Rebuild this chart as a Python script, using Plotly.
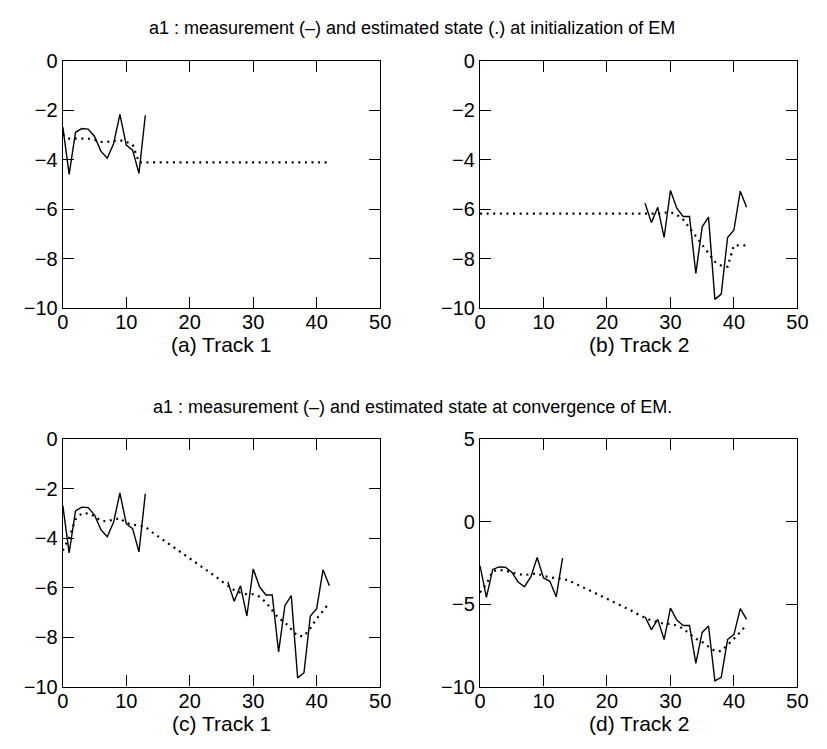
import plotly.graph_objects as go

# ---- data ----
t_track1 = list(range(0, 14))
meas_track1 = [-2.68, -4.60, -2.90, -2.75, -2.77, -3.07, -3.66, -3.95, -3.36, -2.18,
               -3.42, -3.62, -4.56, -2.21]
t_track2 = list(range(26, 43))
meas_track2 = [-5.77, -6.55, -5.93, -7.15, -5.25, -5.97, -6.30, -6.30, -8.60, -6.72,
               -6.33, -9.65, -9.44, -7.15, -6.85, -5.28, -5.93]
t_all = list(range(0, 43))

est_init_track1 = [-2.99, -3.16, -3.16, -3.16, -3.16, -3.20, -3.29, -3.29, -3.25, -3.22,
                   -3.29, -3.39, -4.12, -4.12, -4.12, -4.12, -4.12, -4.12, -4.12, -4.12,
                   -4.12, -4.12, -4.12, -4.12, -4.12, -4.12, -4.12, -4.12, -4.12, -4.12,
                   -4.12, -4.12, -4.12, -4.12, -4.12, -4.12, -4.12, -4.12, -4.12, -4.12,
                   -4.12, -4.12, -4.12]
est_init_track2 = [-6.19, -6.19, -6.19, -6.19, -6.19, -6.19, -6.19, -6.19, -6.19, -6.19,
                   -6.19, -6.19, -6.19, -6.19, -6.19, -6.19, -6.19, -6.19, -6.19, -6.19,
                   -6.19, -6.19, -6.19, -6.19, -6.19, -6.19, -6.19, -6.19, -6.19, -6.15,
                   -6.13, -6.23, -6.43, -6.76, -7.11, -7.44, -7.77, -8.13, -8.29, -8.33,
                   -7.47, -7.47, -7.47]
est_conv_track1 = [-4.50, -4.00, -3.25, -3.00, -3.00, -3.12, -3.30, -3.33, -3.25, -3.20,
                   -3.40, -3.46, -3.50, -3.55, -3.75, -3.93, -4.10, -4.28, -4.46, -4.64,
                   -4.82, -4.99, -5.16, -5.36, -5.54, -5.74, -5.91, -6.10, -6.21, -6.27,
                   -6.27, -6.37, -6.60, -6.92, -7.24, -7.41, -7.67, -7.96, -7.96, -7.65,
                   -7.25, -6.95, -6.60]
est_conv_track2 = [-4.30, -3.80, -3.00, -2.93, -2.98, -3.10, -3.18, -3.24, -3.20, -3.14,
                   -3.30, -3.38, -3.44, -3.47, -3.57, -3.76, -3.96, -4.12, -4.31, -4.50,
                   -4.68, -4.88, -5.08, -5.23, -5.43, -5.65, -5.82, -6.00, -6.10, -6.20,
                   -6.20, -6.30, -6.50, -6.80, -7.10, -7.30, -7.55, -7.85, -7.85, -7.50,
                   -7.10, -6.70, -6.25]

title_top = "a1 : measurement (–) and estimated state (.) at initialization of EM"
title_bottom = "a1 : measurement (–) and estimated state at convergence of EM."
panel_labels = ["(a) Track 1", "(b) Track 2", "(c) Track 1", "(d) Track 2"]

# ---- layout geometry ----
W, H = 827, 749
FONT = "Liberation Sans, Arial, Helvetica, sans-serif"
cols = [(58, 382), (484, 808)]
rows = [(51, 306), (441, 696)]

def xd(c):
    return [c[0] / W, c[1] / W]

def yd(r):
    return [1 - r[1] / H, 1 - r[0] / H]

fig = go.Figure()

solid = dict(color="black", width=1.4)
dotted = dict(color="black", width=2.2, dash="2px,4.6px")

panels = [
    ("", 0, 0, [(t_track1, meas_track1)], est_init_track1, [-10, 0], 2),
    ("2", 1, 0, [(t_track2, meas_track2)], est_init_track2, [-10, 0], 2),
    ("3", 0, 1, [(t_track1, meas_track1), (t_track2, meas_track2)], est_conv_track1, [-10, 0], 2),
    ("4", 1, 1, [(t_track1, meas_track1), (t_track2, meas_track2)], est_conv_track2, [-10, 5], 5),
]

axis_common = dict(
    showline=True, linecolor="black", linewidth=1.3, mirror="ticks",
    ticks="inside", ticklen=11, tickcolor="black", tickwidth=1.3,
    showgrid=False, zeroline=False,
    tickfont=dict(family=FONT, size=20, color="black"),
)

for suf, c, r, meas, est, yr, ydt in panels:
    xa = "x" + suf
    ya = "y" + suf
    for tt, mm in meas:
        fig.add_trace(go.Scatter(x=tt, y=mm, mode="lines", line=solid,
                                 xaxis=xa, yaxis=ya, showlegend=False, hoverinfo="skip"))
    fig.add_trace(go.Scatter(x=t_all, y=est, mode="lines", line=dotted,
                             xaxis=xa, yaxis=ya, showlegend=False, hoverinfo="skip"))
    fig.layout["xaxis" + suf] = dict(domain=xd(cols[c]), range=[0, 50], dtick=10, tick0=0,
                                     anchor=ya, ticklabelstandoff=-4, **axis_common)
    fig.layout["yaxis" + suf] = dict(domain=yd(rows[r]), range=yr, dtick=ydt, tick0=0,
                                     anchor=xa, **axis_common)

annotations = []
def ann(text, x, y, size):
    annotations.append(dict(text=text, x=x / W, y=1 - y / H, xref="paper", yref="paper",
                            showarrow=False, xanchor="center", yanchor="middle",
                            font=dict(family=FONT, size=size, color="black")))

ann(title_top, 415, 18, 18)
ann(title_bottom, 415, 408, 18)
ann(panel_labels[0], (cols[0][0] + cols[0][1]) / 2, 344, 21)
ann(panel_labels[1], (cols[1][0] + cols[1][1]) / 2, 344, 21)
ann(panel_labels[2], (cols[0][0] + cols[0][1]) / 2, 734, 21)
ann(panel_labels[3], (cols[1][0] + cols[1][1]) / 2, 734, 21)

fig.update_layout(width=W, height=H, margin=dict(l=0, r=0, t=0, b=0),
                  paper_bgcolor="white", plot_bgcolor="white",
                  annotations=annotations)

fig.write_html("out.html")
